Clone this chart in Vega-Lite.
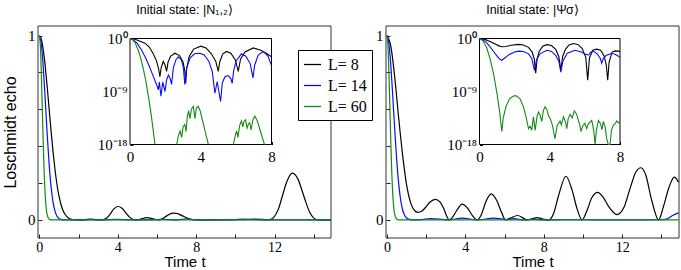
{
"$schema": "https://vega.github.io/schema/vega-lite/v6.json",
"width": 681, "height": 270, "autosize": "none", "padding": 0,
"config": {"view": {"stroke": null}, "background": "white"},
"datasets": {
"mainN": [
{"t":0,"v":1,"L":8},{"t":0.1,"v":0.98,"L":8},{"t":0.2,"v":0.921,"L":8},{"t":0.3,"v":0.832,"L":8},{"t":0.4,"v":0.721,"L":8},{"t":0.5,"v":0.6,"L":8},{"t":0.6,"v":0.479,"L":8},{"t":0.7,"v":0.368,"L":8},{"t":0.8,"v":0.271,"L":8},{"t":0.9,"v":0.191,"L":8},{"t":1.0,"v":0.13,"L":8},{"t":1.1,"v":0.085,"L":8},{"t":1.2,"v":0.053,"L":8},{"t":1.3,"v":0.032,"L":8},{"t":1.4,"v":0.018,"L":8},{"t":1.6,"v":0.005,"L":8},{"t":1.8,"v":0.001,"L":8},{"t":2.1,"v":0.0005,"L":8},{"t":2.35,"v":0.002,"L":8},{"t":2.6,"v":0.004,"L":8},{"t":2.85,"v":0.002,"L":8},{"t":3.15,"v":0,"L":8},{"t":3.4,"v":0.008,"L":8},{"t":3.6,"v":0.03,"L":8},{"t":3.8,"v":0.06,"L":8},{"t":4.0,"v":0.073,"L":8},{"t":4.2,"v":0.065,"L":8},{"t":4.4,"v":0.04,"L":8},{"t":4.6,"v":0.015,"L":8},{"t":4.8,"v":0.002,"L":8},{"t":5.0,"v":0,"L":8},{"t":5.2,"v":0.006,"L":8},{"t":5.5,"v":0.012,"L":8},{"t":5.8,"v":0.006,"L":8},{"t":6.1,"v":0,"L":8},{"t":6.3,"v":0.008,"L":8},{"t":6.5,"v":0.022,"L":8},{"t":6.8,"v":0.037,"L":8},{"t":7.0,"v":0.036,"L":8},{"t":7.3,"v":0.022,"L":8},{"t":7.6,"v":0.008,"L":8},{"t":7.9,"v":0.001,"L":8},{"t":8.5,"v":0.0005,"L":8},{"t":9.5,"v":0.001,"L":8},{"t":10.5,"v":0.001,"L":8},{"t":11.0,"v":0.005,"L":8},{"t":11.4,"v":0.003,"L":8},{"t":11.75,"v":0.001,"L":8},{"t":12.0,"v":0.02,"L":8},{"t":12.2,"v":0.06,"L":8},{"t":12.4,"v":0.13,"L":8},{"t":12.6,"v":0.2,"L":8},{"t":12.8,"v":0.245,"L":8},{"t":12.9,"v":0.254,"L":8},{"t":13.0,"v":0.25,"L":8},{"t":13.2,"v":0.22,"L":8},{"t":13.4,"v":0.16,"L":8},{"t":13.6,"v":0.095,"L":8},{"t":13.8,"v":0.04,"L":8},{"t":14.0,"v":0.01,"L":8},{"t":14.2,"v":0.001,"L":8},{"t":14.5,"v":0,"L":8},{"t":14.88,"v":0,"L":8},
{"t":0,"v":1,"L":14},{"t":0.1,"v":0.953,"L":14},{"t":0.2,"v":0.825,"L":14},{"t":0.3,"v":0.649,"L":14},{"t":0.4,"v":0.463,"L":14},{"t":0.5,"v":0.3,"L":14},{"t":0.6,"v":0.177,"L":14},{"t":0.7,"v":0.095,"L":14},{"t":0.8,"v":0.046,"L":14},{"t":0.9,"v":0.02,"L":14},{"t":1.0,"v":0.008,"L":14},{"t":1.1,"v":0.003,"L":14},{"t":1.3,"v":0.0003,"L":14},{"t":2.0,"v":0,"L":14},{"t":2.7,"v":0.001,"L":14},{"t":3.1,"v":0,"L":14},{"t":3.95,"v":0.003,"L":14},{"t":4.7,"v":0,"L":14},{"t":5.5,"v":0,"L":14},{"t":6.3,"v":0.0025,"L":14},{"t":7.0,"v":0,"L":14},{"t":7.5,"v":0.006,"L":14},{"t":8.0,"v":0.0002,"L":14},{"t":9.0,"v":0,"L":14},{"t":10.0,"v":0.002,"L":14},{"t":10.4,"v":0.004,"L":14},{"t":10.8,"v":0.002,"L":14},{"t":11.5,"v":0,"L":14},{"t":14.88,"v":0,"L":14},
{"t":0,"v":1,"L":60},{"t":0.05,"v":0.945,"L":60},{"t":0.1,"v":0.797,"L":60},{"t":0.15,"v":0.6,"L":60},{"t":0.2,"v":0.404,"L":60},{"t":0.25,"v":0.242,"L":60},{"t":0.3,"v":0.13,"L":60},{"t":0.35,"v":0.062,"L":60},{"t":0.4,"v":0.027,"L":60},{"t":0.5,"v":0.0035,"L":60},{"t":0.6,"v":0.0003,"L":60},{"t":0.8,"v":0,"L":60},{"t":14.88,"v":0,"L":60}
],
"mainP": [
{"t":0,"v":1,"L":8},{"t":0.2,"v":0.94,"L":8},{"t":0.4,"v":0.77,"L":8},{"t":0.6,"v":0.55,"L":8},{"t":0.8,"v":0.35,"L":8},{"t":1.0,"v":0.19,"L":8},{"t":1.2,"v":0.095,"L":8},{"t":1.4,"v":0.052,"L":8},{"t":1.56,"v":0.041,"L":8},{"t":1.8,"v":0.05,"L":8},{"t":2.0,"v":0.072,"L":8},{"t":2.2,"v":0.097,"L":8},{"t":2.46,"v":0.112,"L":8},{"t":2.7,"v":0.098,"L":8},{"t":2.9,"v":0.06,"L":8},{"t":3.05,"v":0.02,"L":8},{"t":3.18,"v":0,"L":8},{"t":3.35,"v":0.015,"L":8},{"t":3.55,"v":0.05,"L":8},{"t":3.83,"v":0.086,"L":8},{"t":4.1,"v":0.065,"L":8},{"t":4.35,"v":0.025,"L":8},{"t":4.59,"v":0,"L":8},{"t":4.8,"v":0.025,"L":8},{"t":5.05,"v":0.1,"L":8},{"t":5.32,"v":0.141,"L":8},{"t":5.6,"v":0.105,"L":8},{"t":5.85,"v":0.04,"L":8},{"t":6.04,"v":0,"L":8},{"t":6.3,"v":0.01,"L":8},{"t":6.67,"v":0.024,"L":8},{"t":6.95,"v":0.01,"L":8},{"t":7.14,"v":0,"L":8},{"t":7.4,"v":0.006,"L":8},{"t":7.65,"v":0.012,"L":8},{"t":7.95,"v":0.005,"L":8},{"t":8.25,"v":0,"L":8},{"t":8.5,"v":0.035,"L":8},{"t":8.75,"v":0.13,"L":8},{"t":9.13,"v":0.237,"L":8},{"t":9.45,"v":0.16,"L":8},{"t":9.7,"v":0.06,"L":8},{"t":9.95,"v":0,"L":8},{"t":10.2,"v":0.05,"L":8},{"t":10.45,"v":0.12,"L":8},{"t":10.75,"v":0.15,"L":8},{"t":11.0,"v":0.128,"L":8},{"t":11.3,"v":0.075,"L":8},{"t":11.73,"v":0.029,"L":8},{"t":12.1,"v":0.07,"L":8},{"t":12.4,"v":0.17,"L":8},{"t":12.7,"v":0.26,"L":8},{"t":12.96,"v":0.283,"L":8},{"t":13.2,"v":0.245,"L":8},{"t":13.5,"v":0.11,"L":8},{"t":13.86,"v":0,"L":8},{"t":14.1,"v":0.07,"L":8},{"t":14.4,"v":0.18,"L":8},{"t":14.66,"v":0.232,"L":8},{"t":14.88,"v":0.205,"L":8},
{"t":0,"v":1,"L":14},{"t":0.1,"v":0.955,"L":14},{"t":0.2,"v":0.833,"L":14},{"t":0.3,"v":0.663,"L":14},{"t":0.4,"v":0.482,"L":14},{"t":0.5,"v":0.32,"L":14},{"t":0.6,"v":0.194,"L":14},{"t":0.7,"v":0.107,"L":14},{"t":0.8,"v":0.054,"L":14},{"t":0.9,"v":0.025,"L":14},{"t":1.0,"v":0.01,"L":14},{"t":1.2,"v":0.0014,"L":14},{"t":1.4,"v":0.0003,"L":14},{"t":1.8,"v":0.002,"L":14},{"t":2.2,"v":0.007,"L":14},{"t":2.8,"v":0.003,"L":14},{"t":3.13,"v":0,"L":14},{"t":3.83,"v":0.01,"L":14},{"t":4.63,"v":0,"L":14},{"t":5.44,"v":0.01,"L":14},{"t":6.2,"v":0.002,"L":14},{"t":6.48,"v":0.007,"L":14},{"t":6.96,"v":0,"L":14},{"t":7.5,"v":0.003,"L":14},{"t":8.0,"v":0.0006,"L":14},{"t":9.0,"v":0.001,"L":14},{"t":10.0,"v":0.001,"L":14},{"t":11.0,"v":0.0005,"L":14},{"t":12.0,"v":0.0005,"L":14},{"t":13.0,"v":0.0005,"L":14},{"t":14.0,"v":0.001,"L":14},{"t":14.3,"v":0.006,"L":14},{"t":14.6,"v":0.025,"L":14},{"t":14.88,"v":0.038,"L":14},
{"t":0,"v":1,"L":60},{"t":0.05,"v":0.945,"L":60},{"t":0.1,"v":0.797,"L":60},{"t":0.15,"v":0.6,"L":60},{"t":0.2,"v":0.404,"L":60},{"t":0.25,"v":0.242,"L":60},{"t":0.3,"v":0.13,"L":60},{"t":0.35,"v":0.062,"L":60},{"t":0.4,"v":0.027,"L":60},{"t":0.5,"v":0.0035,"L":60},{"t":0.6,"v":0.0003,"L":60},{"t":0.8,"v":0,"L":60},{"t":14.88,"v":0,"L":60}
],
"insetN": [
{"t":0,"v":1,"L":8},{"t":0.3,"v":0.741,"L":8},{"t":0.6,"v":0.316,"L":8},{"t":0.85,"v":0.158,"L":8},{"t":1.1,"v":3.16e-2,"L":8},{"t":1.3,"v":3.16e-3,"L":8},{"t":1.5,"v":1.58e-4,"L":8},{"t":1.62,"v":6.31e-6,"L":8},{"t":1.69,"v":3.16e-7,"L":8},{"t":1.76,"v":1e-5,"L":8},{"t":1.88,"v":1.26e-4,"L":8},{"t":1.98,"v":3.16e-5,"L":8},{"t":2.07,"v":2.51e-6,"L":8},{"t":2.15,"v":1e-4,"L":8},{"t":2.3,"v":1e-3,"L":8},{"t":2.54,"v":3.16e-3,"L":8},{"t":2.8,"v":1.26e-3,"L":8},{"t":3.0,"v":1e-4,"L":8},{"t":3.1,"v":3.16e-6,"L":8},{"t":3.15,"v":2.51e-8,"L":8},{"t":3.2,"v":6.31e-6,"L":8},{"t":3.35,"v":1e-3,"L":8},{"t":3.6,"v":1.58e-2,"L":8},{"t":4.0,"v":5.01e-2,"L":8},{"t":4.3,"v":2.51e-2,"L":8},{"t":4.6,"v":2.51e-3,"L":8},{"t":4.85,"v":1.26e-4,"L":8},{"t":4.99,"v":2.51e-6,"L":8},{"t":5.08,"v":1.26e-4,"L":8},{"t":5.25,"v":2.51e-3,"L":8},{"t":5.46,"v":6.31e-3,"L":8},{"t":5.7,"v":3.16e-3,"L":8},{"t":5.95,"v":2.51e-4,"L":8},{"t":6.12,"v":2.51e-6,"L":8},{"t":6.25,"v":3.16e-4,"L":8},{"t":6.5,"v":5.01e-3,"L":8},{"t":6.97,"v":2.51e-2,"L":8},{"t":7.4,"v":1e-2,"L":8},{"t":7.7,"v":3.16e-3,"L":8},{"t":8.0,"v":7.94e-4,"L":8},
{"t":0,"v":1,"L":14},{"t":0.2,"v":0.562,"L":14},{"t":0.4,"v":0.158,"L":14},{"t":0.66,"v":1e-2,"L":14},{"t":0.9,"v":3.98e-4,"L":14},{"t":1.1,"v":1.58e-5,"L":14},{"t":1.3,"v":5.01e-7,"L":14},{"t":1.5,"v":1.58e-8,"L":14},{"t":1.6,"v":2e-9,"L":14},{"t":1.66,"v":3.98e-8,"L":14},{"t":1.75,"v":1.58e-10,"L":14},{"t":1.85,"v":3.98e-8,"L":14},{"t":1.98,"v":1e-9,"L":14},{"t":2.07,"v":1e-7,"L":14},{"t":2.17,"v":6.31e-7,"L":14},{"t":2.27,"v":1.58e-7,"L":14},{"t":2.35,"v":1.58e-8,"L":14},{"t":2.45,"v":1e-5,"L":14},{"t":2.6,"v":2.51e-4,"L":14},{"t":2.73,"v":7.94e-4,"L":14},{"t":2.9,"v":2.51e-4,"L":14},{"t":3.02,"v":1e-5,"L":14},{"t":3.1,"v":1.58e-8,"L":14},{"t":3.2,"v":1e-5,"L":14},{"t":3.4,"v":5.01e-4,"L":14},{"t":3.65,"v":2.51e-3,"L":14},{"t":3.95,"v":3.16e-3,"L":14},{"t":4.2,"v":1.58e-3,"L":14},{"t":4.45,"v":1.58e-4,"L":14},{"t":4.65,"v":2.51e-6,"L":14},{"t":4.8,"v":5.01e-10,"L":14},{"t":4.93,"v":5.01e-8,"L":14},{"t":5.12,"v":2e-11,"L":14},{"t":5.22,"v":3.16e-8,"L":14},{"t":5.37,"v":3.16e-7,"L":14},{"t":5.55,"v":5.01e-7,"L":14},{"t":5.7,"v":1.58e-7,"L":14},{"t":5.78,"v":2.51e-8,"L":14},{"t":5.86,"v":3.16e-6,"L":14},{"t":6.0,"v":1.58e-4,"L":14},{"t":6.3,"v":2.51e-3,"L":14},{"t":6.55,"v":1e-3,"L":14},{"t":6.8,"v":5.01e-5,"L":14},{"t":6.95,"v":2e-7,"L":14},{"t":7.05,"v":3.16e-5,"L":14},{"t":7.25,"v":1.58e-3,"L":14},{"t":7.53,"v":6.31e-3,"L":14},{"t":7.8,"v":1e-3,"L":14},{"t":8.0,"v":2.51e-5,"L":14},
{"t":0,"v":1,"L":60,"s":"a"},{"t":0.15,"v":0.631,"L":60,"s":"a"},{"t":0.3,"v":0.158,"L":60,"s":"a"},{"t":0.47,"v":1e-2,"L":60,"s":"a"},{"t":0.6,"v":5.01e-4,"L":60,"s":"a"},{"t":0.75,"v":7.94e-6,"L":60,"s":"a"},{"t":0.9,"v":5.01e-8,"L":60,"s":"a"},{"t":1.05,"v":1e-10,"L":60,"s":"a"},{"t":1.2,"v":1e-13,"L":60,"s":"a"},{"t":1.3,"v":5.01e-16,"L":60,"s":"a"},{"t":1.41,"v":1e-18,"L":60,"s":"a"},
{"t":2.64,"v":1e-18,"L":60,"s":"b"},{"t":2.74,"v":3.16e-17,"L":60,"s":"b"},{"t":2.83,"v":2e-16,"L":60,"s":"b"},{"t":2.92,"v":1.58e-17,"L":60,"s":"b"},{"t":3.0,"v":1e-15,"L":60,"s":"b"},{"t":3.1,"v":2.51e-15,"L":60,"s":"b"},{"t":3.17,"v":1.58e-16,"L":60,"s":"b"},{"t":3.25,"v":1e-13,"L":60,"s":"b"},{"t":3.32,"v":3.98e-13,"L":60,"s":"b"},{"t":3.39,"v":2.51e-14,"L":60,"s":"b"},{"t":3.47,"v":1e-12,"L":60,"s":"b"},{"t":3.58,"v":3.16e-12,"L":60,"s":"b"},{"t":3.67,"v":2.51e-14,"L":60,"s":"b"},{"t":3.75,"v":1.58e-12,"L":60,"s":"b"},{"t":3.86,"v":3.16e-12,"L":60,"s":"b"},{"t":3.97,"v":5.01e-13,"L":60,"s":"b"},{"t":4.05,"v":5.01e-14,"L":60,"s":"b"},{"t":4.15,"v":3.16e-15,"L":60,"s":"b"},{"t":4.24,"v":2e-16,"L":60,"s":"b"},{"t":4.35,"v":1e-17,"L":60,"s":"b"},{"t":4.43,"v":1e-18,"L":60,"s":"b"},
{"t":5.84,"v":1e-18,"L":60,"s":"c"},{"t":5.95,"v":3.16e-17,"L":60,"s":"c"},{"t":6.03,"v":2e-16,"L":60,"s":"c"},{"t":6.1,"v":1.58e-17,"L":60,"s":"c"},{"t":6.2,"v":1.58e-15,"L":60,"s":"c"},{"t":6.3,"v":1e-14,"L":60,"s":"c"},{"t":6.38,"v":1e-15,"L":60,"s":"c"},{"t":6.45,"v":1e-14,"L":60,"s":"c"},{"t":6.53,"v":1.58e-14,"L":60,"s":"c"},{"t":6.62,"v":6.31e-16,"L":60,"s":"c"},{"t":6.7,"v":3.16e-15,"L":60,"s":"c"},{"t":6.77,"v":5.01e-15,"L":60,"s":"c"},{"t":6.85,"v":3.16e-16,"L":60,"s":"c"},{"t":6.95,"v":1.58e-14,"L":60,"s":"c"},{"t":7.06,"v":6.31e-14,"L":60,"s":"c"},{"t":7.2,"v":1e-14,"L":60,"s":"c"},{"t":7.35,"v":3.16e-16,"L":60,"s":"c"},{"t":7.5,"v":1e-17,"L":60,"s":"c"},{"t":7.6,"v":1e-18,"L":60,"s":"c"}
],
"insetP": [
{"t":0,"v":1,"L":8},{"t":0.3,"v":0.708,"L":8},{"t":0.6,"v":0.316,"L":8},{"t":0.9,"v":0.112,"L":8},{"t":1.1,"v":5.62e-2,"L":8},{"t":1.27,"v":3.98e-2,"L":8},{"t":1.5,"v":4.47e-2,"L":8},{"t":1.8,"v":7.08e-2,"L":8},{"t":2.22,"v":0.1,"L":8},{"t":2.5,"v":7.94e-2,"L":8},{"t":2.79,"v":3.16e-2,"L":8},{"t":3.0,"v":5.01e-3,"L":8},{"t":3.12,"v":3.16e-4,"L":8},{"t":3.2,"v":1.26e-6,"L":8},{"t":3.28,"v":3.16e-4,"L":8},{"t":3.4,"v":6.31e-3,"L":8},{"t":3.6,"v":5.01e-2,"L":8},{"t":3.83,"v":8.91e-2,"L":8},{"t":4.1,"v":6.31e-2,"L":8},{"t":4.35,"v":1.26e-2,"L":8},{"t":4.52,"v":7.94e-4,"L":8},{"t":4.63,"v":3.98e-6,"L":8},{"t":4.73,"v":7.94e-4,"L":8},{"t":4.9,"v":1.58e-2,"L":8},{"t":5.1,"v":7.94e-2,"L":8},{"t":5.35,"v":0.141,"L":8},{"t":5.6,"v":0.1,"L":8},{"t":5.85,"v":2e-2,"L":8},{"t":6.05,"v":6.31e-4,"L":8},{"t":6.16,"v":7.94e-8,"L":8},{"t":6.26,"v":5.01e-4,"L":8},{"t":6.45,"v":1e-2,"L":8},{"t":6.67,"v":1.58e-2,"L":8},{"t":6.9,"v":1e-2,"L":8},{"t":7.1,"v":1e-3,"L":8},{"t":7.22,"v":3.16e-5,"L":8},{"t":7.3,"v":7.94e-8,"L":8},{"t":7.38,"v":1e-4,"L":8},{"t":7.55,"v":5.01e-3,"L":8},{"t":7.72,"v":7.94e-3,"L":8},{"t":7.9,"v":7.08e-3,"L":8},{"t":8.0,"v":6.31e-3,"L":8},
{"t":0,"v":1,"L":14},{"t":0.2,"v":0.562,"L":14},{"t":0.4,"v":0.2,"L":14},{"t":0.6,"v":3.98e-2,"L":14},{"t":0.8,"v":6.31e-3,"L":14},{"t":1.0,"v":1e-3,"L":14},{"t":1.15,"v":3.16e-4,"L":14},{"t":1.27,"v":2e-4,"L":14},{"t":1.4,"v":3.98e-4,"L":14},{"t":1.7,"v":2e-3,"L":14},{"t":2.0,"v":5.01e-3,"L":14},{"t":2.22,"v":7.08e-3,"L":14},{"t":2.5,"v":6.31e-3,"L":14},{"t":2.79,"v":2.51e-3,"L":14},{"t":2.98,"v":3.98e-4,"L":14},{"t":3.13,"v":3.98e-6,"L":14},{"t":3.25,"v":2.51e-4,"L":14},{"t":3.45,"v":2.51e-3,"L":14},{"t":3.83,"v":1e-2,"L":14},{"t":4.1,"v":6.31e-3,"L":14},{"t":4.35,"v":1.26e-3,"L":14},{"t":4.52,"v":1.26e-4,"L":14},{"t":4.63,"v":2e-6,"L":14},{"t":4.75,"v":1.58e-4,"L":14},{"t":5.0,"v":3.16e-3,"L":14},{"t":5.44,"v":1e-2,"L":14},{"t":5.8,"v":5.01e-3,"L":14},{"t":6.05,"v":2e-3,"L":14},{"t":6.2,"v":1.58e-3,"L":14},{"t":6.35,"v":5.01e-3,"L":14},{"t":6.48,"v":7.08e-3,"L":14},{"t":6.7,"v":2.51e-3,"L":14},{"t":6.88,"v":3.98e-4,"L":14},{"t":6.96,"v":6.31e-5,"L":14},{"t":7.05,"v":3.98e-4,"L":14},{"t":7.2,"v":1.26e-3,"L":14},{"t":7.45,"v":2.51e-3,"L":14},{"t":7.65,"v":2.51e-3,"L":14},{"t":7.85,"v":1.26e-3,"L":14},{"t":8.0,"v":6.31e-4,"L":14},
{"t":0,"v":1,"L":60},{"t":0.2,"v":0.398,"L":60},{"t":0.4,"v":3.16e-2,"L":60},{"t":0.6,"v":3.98e-4,"L":60},{"t":0.8,"v":1e-6,"L":60},{"t":1.0,"v":3.98e-10,"L":60},{"t":1.15,"v":3.16e-13,"L":60},{"t":1.27,"v":1.58e-16,"L":60},{"t":1.35,"v":3.16e-14,"L":60},{"t":1.5,"v":2.51e-12,"L":60},{"t":1.7,"v":5.01e-11,"L":60},{"t":1.9,"v":1.58e-10,"L":60},{"t":2.07,"v":2e-10,"L":60},{"t":2.3,"v":6.31e-11,"L":60},{"t":2.5,"v":2.51e-12,"L":60},{"t":2.65,"v":5.01e-14,"L":60},{"t":2.79,"v":5.01e-16,"L":60},{"t":2.88,"v":1.26e-15,"L":60},{"t":2.97,"v":2.51e-16,"L":60},{"t":3.07,"v":5.01e-14,"L":60},{"t":3.17,"v":2.51e-16,"L":60},{"t":3.27,"v":5.01e-14,"L":60},{"t":3.36,"v":3.16e-13,"L":60},{"t":3.45,"v":1e-13,"L":60},{"t":3.55,"v":7.94e-15,"L":60},{"t":3.63,"v":5.01e-13,"L":60},{"t":3.73,"v":2.51e-12,"L":60},{"t":3.83,"v":1e-12,"L":60},{"t":3.92,"v":1e-13,"L":60},{"t":4.05,"v":1.58e-14,"L":60},{"t":4.15,"v":2e-15,"L":60},{"t":4.25,"v":5.01e-17,"L":60},{"t":4.3,"v":1e-17,"L":60},{"t":4.42,"v":1.58e-15,"L":60},{"t":4.59,"v":1e-14,"L":60},{"t":4.66,"v":2e-15,"L":60},{"t":4.78,"v":5.01e-14,"L":60},{"t":4.9,"v":6.31e-15,"L":60},{"t":4.97,"v":5.01e-16,"L":60},{"t":5.05,"v":2.51e-14,"L":60},{"t":5.16,"v":1.26e-13,"L":60},{"t":5.28,"v":3.16e-14,"L":60},{"t":5.4,"v":5.01e-13,"L":60},{"t":5.52,"v":1.58e-13,"L":60},{"t":5.63,"v":1.26e-14,"L":60},{"t":5.72,"v":1.58e-15,"L":60},{"t":5.78,"v":1.58e-16,"L":60},{"t":5.88,"v":1.58e-15,"L":60},{"t":6.0,"v":3.98e-15,"L":60},{"t":6.1,"v":5.01e-16,"L":60},{"t":6.2,"v":3.16e-15,"L":60},{"t":6.39,"v":1.26e-14,"L":60},{"t":6.5,"v":3.16e-16,"L":60},{"t":6.58,"v":1e-18,"L":60},{"t":6.66,"v":3.16e-16,"L":60},{"t":6.77,"v":1.26e-14,"L":60},{"t":6.9,"v":3.16e-15,"L":60},{"t":6.97,"v":3.16e-16,"L":60},{"t":7.05,"v":7.94e-15,"L":60},{"t":7.15,"v":1e-15,"L":60},{"t":7.24,"v":1e-17,"L":60},{"t":7.33,"v":1e-18,"L":60},{"t":7.43,"v":1e-18,"L":60},{"t":7.52,"v":3.16e-16,"L":60},{"t":7.62,"v":2e-15,"L":60},{"t":7.72,"v":3.16e-15,"L":60},{"t":7.81,"v":1e-14,"L":60},{"t":7.9,"v":5.01e-15,"L":60},{"t":8.0,"v":7.94e-15,"L":60}
]
},
"resolve": {"scale": {"x": "independent", "y": "independent"}},
"layer": [
{
"layer": [
{"data": {"values": [{}]}, "mark": {"type": "rect", "filled": false, "stroke": "#333", "strokeWidth": 1},
 "encoding": {"x": {"datum": -0.07, "type": "quantitative"}, "x2": {"datum": 14.88}, "y": {"datum": -0.098, "type": "quantitative"}, "y2": {"datum": 1.052}}},
{"data": {"values": [{}]}, "mark": {"type": "text", "text": "Initial state:   |N₁,₂⟩", "font": "Liberation Sans", "fontSize": 12.5, "color": "#000", "align": "center", "baseline": "alphabetic", "dy": -12},
 "encoding": {"x": {"datum": 7.405, "type": "quantitative"}, "y": {"datum": 1.052, "type": "quantitative"}}},
{"data": {"name": "mainN"}, "mark": {"type": "line", "interpolate": "monotone", "strokeWidth": 1.2},
 "encoding": {
 "x": {"field": "t", "type": "quantitative", "scale": {"domain": [-0.07, 14.88], "nice": false, "zero": false, "range": [38, 331]},
  "axis": {"orient": "bottom", "offset": -32, "values": [0,2,4,6,8,10,12,14], "labelExpr": "datum.value % 4 == 0 ? '' + datum.value : ''", "title": "Time  t", "grid": false, "domain": false, "tickSize": -4, "tickColor": "#222", "labelPadding": 6, "labelFlush": false, "labelFont": "Liberation Serif", "labelFontSize": 14, "labelColor": "#000", "titleFont": "Liberation Sans", "titleFontSize": 15, "titleFontWeight": "normal", "titleColor": "#000", "titlePadding": 0.5}},
 "y": {"field": "v", "type": "quantitative", "scale": {"domain": [-0.098, 1.052], "nice": false, "zero": false, "range": [238, 26]},
  "axis": {"orient": "left", "offset": -38, "values": [0,0.1,0.2,0.3,0.4,0.5,0.6,0.7,0.8,0.9,1], "labelExpr": "datum.value == 0 ? '0' : datum.value == 0.5 ? '0.5' : datum.value == 1 ? '1' : ''", "title": "Loschmidt echo", "grid": false, "domain": false, "tickSize": -4, "tickColor": "#222", "labelPadding": 7, "labelFont": "Liberation Serif", "labelFontSize": 15, "labelColor": "#000", "titleFont": "Liberation Sans", "titleFontSize": 16, "titleFontWeight": "normal", "titleColor": "#000", "titlePadding": 9}},
 "color": {"field": "L", "type": "nominal", "scale": {"domain": [8, 14, 60], "range": ["#000000", "#0a0aff", "#138a13"]},
  "legend": {"title": null, "orient": "none", "legendX": 298, "legendY": 50, "symbolType": "stroke", "symbolSize": 289, "symbolStrokeWidth": 1.3, "labelFont": "Liberation Serif", "labelFontSize": 16, "labelColor": "#000", "labelOffset": 6, "padding": 5, "rowPadding": 3, "strokeColor": "#000", "fillColor": "#fff", "cornerRadius": 0, "labelExpr": "'L= ' + datum.label"}}
 }}
]
},
{
"layer": [
{"data": {"values": [{}]}, "mark": {"type": "rect", "fill": "#fff", "stroke": "#000", "strokeWidth": 1},
 "encoding": {"x": {"datum": 0, "type": "quantitative"}, "x2": {"datum": 8}, "y": {"datum": 1e-18, "type": "quantitative"}, "y2": {"datum": 1}}},
{"data": {"name": "insetN"}, "mark": {"type": "line", "strokeWidth": 1.1},
 "encoding": {
 "x": {"field": "t", "type": "quantitative", "scale": {"domain": [0, 8], "nice": false, "zero": false, "range": [130, 271.5]},
  "axis": {"orient": "bottom", "offset": -125.5, "values": [0,2,4,6,8], "labelExpr": "datum.value % 4 == 0 ? '' + datum.value : ''", "title": null, "grid": false, "domain": false, "tickSize": -3, "tickColor": "#000", "labelPadding": 8, "labelFlush": false, "labelFont": "Liberation Serif", "labelFontSize": 15, "labelColor": "#000"}},
 "y": {"field": "v", "type": "quantitative", "scale": {"type": "log", "domain": [1e-18, 1], "nice": false, "range": [144.5, 38.5]},
  "axis": {"orient": "left", "offset": -130, "values": [1,1e-1,1e-2,1e-3,1e-4,1e-5,1e-6,1e-7,1e-8,1e-9,1e-10,1e-11,1e-12,1e-13,1e-14,1e-15,1e-16,1e-17,1e-18], "labelExpr": "datum.value > 0.5 ? '10⁰' : (datum.value > 1e-10 && datum.value < 1e-8) ? '10⁻⁹' : datum.value < 1e-17 ? '10⁻¹⁸' : ''", "title": null, "grid": false, "domain": false, "tickSize": -3, "tickColor": "#000", "labelPadding": 6, "labelFont": "Liberation Serif", "labelFontSize": 15, "labelColor": "#000"}},
 "color": {"field": "L", "type": "nominal", "scale": {"domain": [8, 14, 60], "range": ["#000000", "#0a0aff", "#138a13"]}},
 "detail": {"field": "s"}
 }}
]
},
{
"layer": [
{"data": {"values": [{}]}, "mark": {"type": "rect", "filled": false, "stroke": "#333", "strokeWidth": 1},
 "encoding": {"x": {"datum": -0.05, "type": "quantitative"}, "x2": {"datum": 14.9}, "y": {"datum": -0.098, "type": "quantitative"}, "y2": {"datum": 1.052}}},
{"data": {"values": [{}]}, "mark": {"type": "text", "text": "Initial state:   |Ψσ⟩", "font": "Liberation Sans", "fontSize": 12.5, "color": "#000", "align": "center", "baseline": "alphabetic", "dy": -12},
 "encoding": {"x": {"datum": 7.425, "type": "quantitative"}, "y": {"datum": 1.052, "type": "quantitative"}}},
{"data": {"name": "mainP"}, "mark": {"type": "line", "interpolate": "monotone", "strokeWidth": 1.2},
 "encoding": {
 "x": {"field": "t", "type": "quantitative", "scale": {"domain": [-0.05, 14.9], "nice": false, "zero": false, "range": [386, 679]},
  "axis": {"orient": "bottom", "offset": -32, "values": [0,2,4,6,8,10,12,14], "labelExpr": "datum.value % 4 == 0 ? '' + datum.value : ''", "title": "Time  t", "grid": false, "domain": false, "tickSize": -4, "tickColor": "#222", "labelPadding": 6, "labelFlush": false, "labelFont": "Liberation Serif", "labelFontSize": 14, "labelColor": "#000", "titleFont": "Liberation Sans", "titleFontSize": 15, "titleFontWeight": "normal", "titleColor": "#000", "titlePadding": 0.5}},
 "y": {"field": "v", "type": "quantitative", "scale": {"domain": [-0.098, 1.052], "nice": false, "zero": false, "range": [238, 26]},
  "axis": {"orient": "left", "offset": -386, "values": [0,0.1,0.2,0.3,0.4,0.5,0.6,0.7,0.8,0.9,1], "labelExpr": "datum.value == 0 ? '0' : datum.value == 0.5 ? '0.5' : datum.value == 1 ? '1' : ''", "title": null, "grid": false, "domain": false, "tickSize": -4, "tickColor": "#222", "labelPadding": 7, "labelFont": "Liberation Serif", "labelFontSize": 15, "labelColor": "#000"}},
 "color": {"field": "L", "type": "nominal", "scale": {"domain": [8, 14, 60], "range": ["#000000", "#0a0aff", "#138a13"]}}
 }}
]
},
{
"layer": [
{"data": {"values": [{}]}, "mark": {"type": "rect", "fill": "#fff", "stroke": "#000", "strokeWidth": 1},
 "encoding": {"x": {"datum": 0, "type": "quantitative"}, "x2": {"datum": 8}, "y": {"datum": 1e-18, "type": "quantitative"}, "y2": {"datum": 1}}},
{"data": {"name": "insetP"}, "mark": {"type": "line", "strokeWidth": 1.1},
 "encoding": {
 "x": {"field": "t", "type": "quantitative", "scale": {"domain": [0, 8], "nice": false, "zero": false, "range": [479.5, 620]},
  "axis": {"orient": "bottom", "offset": -125.5, "values": [0,2,4,6,8], "labelExpr": "datum.value % 4 == 0 ? '' + datum.value : ''", "title": null, "grid": false, "domain": false, "tickSize": -3, "tickColor": "#000", "labelPadding": 8, "labelFlush": false, "labelFont": "Liberation Serif", "labelFontSize": 15, "labelColor": "#000"}},
 "y": {"field": "v", "type": "quantitative", "scale": {"type": "log", "domain": [1e-18, 1], "nice": false, "range": [144.5, 38.5]},
  "axis": {"orient": "left", "offset": -479.5, "values": [1,1e-1,1e-2,1e-3,1e-4,1e-5,1e-6,1e-7,1e-8,1e-9,1e-10,1e-11,1e-12,1e-13,1e-14,1e-15,1e-16,1e-17,1e-18], "labelExpr": "datum.value > 0.5 ? '10⁰' : (datum.value > 1e-10 && datum.value < 1e-8) ? '10⁻⁹' : datum.value < 1e-17 ? '10⁻¹⁸' : ''", "title": null, "grid": false, "domain": false, "tickSize": -3, "tickColor": "#000", "labelPadding": 6, "labelFont": "Liberation Serif", "labelFontSize": 15, "labelColor": "#000"}},
 "color": {"field": "L", "type": "nominal", "scale": {"domain": [8, 14, 60], "range": ["#000000", "#0a0aff", "#138a13"]}},
 "detail": {"field": "s"}
 }}
]
}
]
}
